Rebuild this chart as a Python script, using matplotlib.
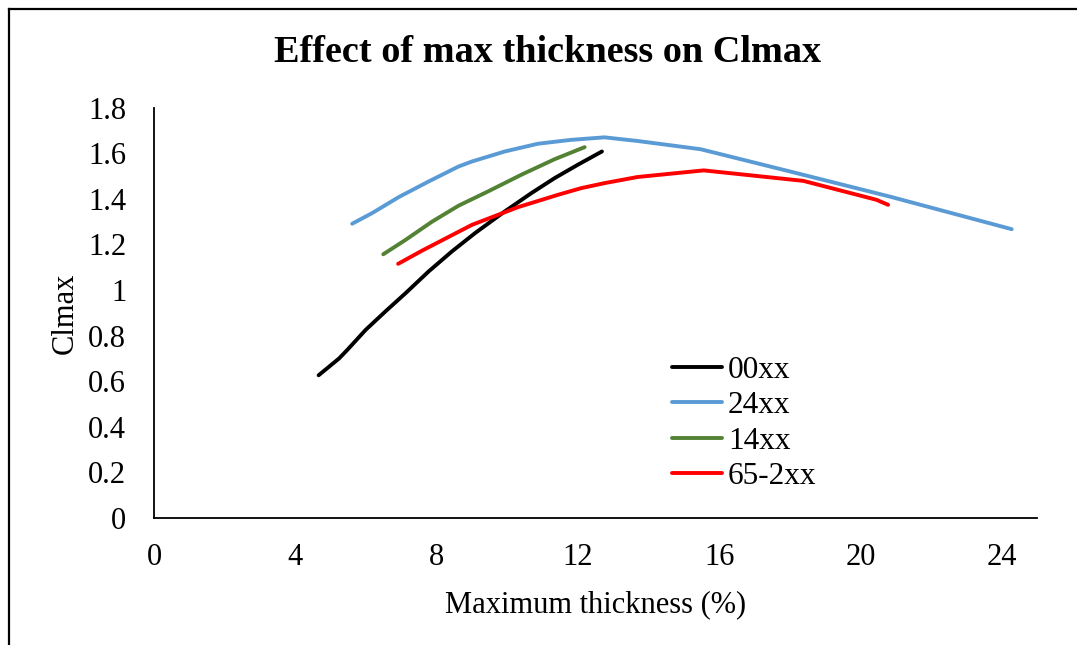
import matplotlib
matplotlib.use("Agg")
import matplotlib.pyplot as plt
from matplotlib.lines import Line2D

plt.rcParams['font.family'] = ['Liberation Serif', 'DejaVu Serif']

# Clmax against maximum thickness (%) for each airfoil family
x_00xx = [4.66, 5.24, 5.47, 5.99, 6.55, 7.12, 7.77, 8.43, 9.09, 9.93, 10.68, 11.34, 12.0, 12.68]
y_00xx = [0.626, 0.70, 0.737, 0.825, 0.906, 0.986, 1.081, 1.169, 1.25, 1.345, 1.425, 1.491, 1.55, 1.608]

x_24xx = [5.61, 6.18, 6.93, 7.77, 8.62, 9.0, 9.93, 10.87, 11.81, 12.75, 13.69, 15.47, 18.01, 20.83, 24.28]
y_24xx = [1.291, 1.338, 1.408, 1.476, 1.542, 1.564, 1.608, 1.642, 1.659, 1.67, 1.654, 1.618, 1.52, 1.41, 1.267]

x_14xx = [6.49, 7.12, 7.87, 8.62, 9.46, 10.40, 11.34, 12.19]
y_14xx = [1.157, 1.22, 1.30, 1.37, 1.433, 1.506, 1.574, 1.627]

x_652xx = [6.91, 7.59, 9.0, 10.31, 11.44, 12.09, 12.75, 13.69, 15.56, 18.38, 20.45, 20.78]
y_652xx = [1.115, 1.173, 1.286, 1.364, 1.418, 1.447, 1.469, 1.496, 1.525, 1.479, 1.396, 1.374]

series = [
    ("00xx", x_00xx, y_00xx, "#000000"),
    ("24xx", x_24xx, y_24xx, "#5B9BD5"),
    ("14xx", x_14xx, y_14xx, "#548235"),
    ("65-2xx", x_652xx, y_652xx, "#FF0000"),
]

xticks = [0, 4, 8, 12, 16, 20, 24]
yticks = [0, 0.2, 0.4, 0.6, 0.8, 1.0, 1.2, 1.4, 1.6, 1.8]
ytick_labels = ["0", "0.2", "0.4", "0.6", "0.8", "1", "1.2", "1.4", "1.6", "1.8"]

fig = plt.figure(figsize=(10.77, 6.45), dpi=100)
ax = fig.add_axes([0.143, 0.197, 0.820, 0.636])

for name, xs, ys, color in series:
    ax.plot(xs, ys, color=color, lw=2.8, label=name,
            solid_capstyle="round", solid_joinstyle="round")

ax.set_xlim(0, 25)
ax.set_ylim(0, 1.8)
ax.set_xticks(xticks)
ax.set_yticks(yticks)
ax.set_yticklabels(ytick_labels)
ax.tick_params(length=0, labelsize=22)
ax.tick_params(axis="y", pad=20)
ax.tick_params(axis="x", pad=18)

for side in ["top", "right"]:
    ax.spines[side].set_visible(False)
for side in ["left", "bottom"]:
    ax.spines[side].set_linewidth(1.3)

ax.set_xlabel("Maximum thickness (%)", fontsize=22, labelpad=13)
ax.set_ylabel("Clmax", fontsize=22, labelpad=6)
fig.text(0.508, 0.918, "Effect of max thickness on Clmax",
         fontsize=27.5, fontweight="bold", ha="center", va="center")

ax.legend(loc="upper left", bbox_to_anchor=(0.609, 0.472), bbox_transform=fig.transFigure,
          frameon=False, fontsize=22.5, handlelength=1.6, handletextpad=0.2,
          labelspacing=0.2, borderpad=0)

# outer chart border (left and top edges)
fig.add_artist(Line2D([9 / 1077, 9 / 1077], [0, 1 - 9 / 645], transform=fig.transFigure,
                      color="black", lw=1.6))
fig.add_artist(Line2D([9 / 1077, 1], [1 - 9 / 645, 1 - 9 / 645], transform=fig.transFigure,
                      color="black", lw=1.6))

fig.savefig("out.png", dpi=100)
